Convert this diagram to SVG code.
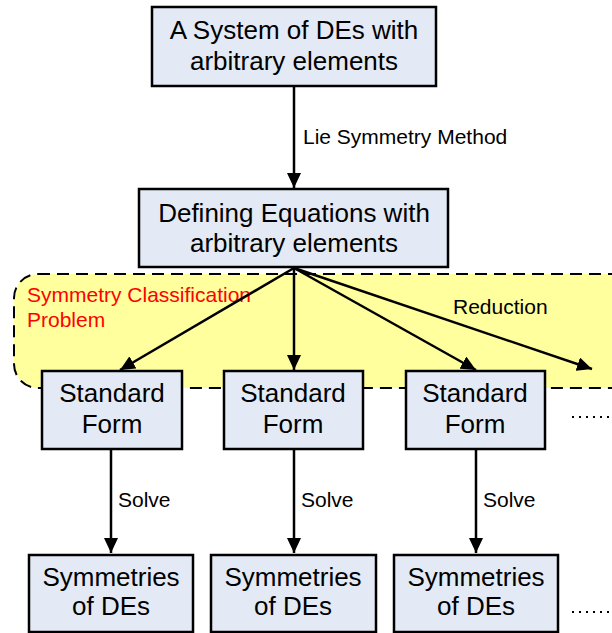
<svg xmlns="http://www.w3.org/2000/svg" width="612" height="633" viewBox="0 0 612 633">
  <style>
    .box { fill: #E3EAF5; stroke: #000; stroke-width: 2.5; }
    .btxt { font-family: "Liberation Sans", Arial, sans-serif; font-size: 26px; fill: #000; text-anchor: middle; }
    .lbl { font-family: "Liberation Sans", Arial, sans-serif; font-size: 21px; fill: #000; }
    .red { font-family: "Liberation Sans", Arial, sans-serif; font-size: 21px; fill: #FF0000; }
    .edge { stroke: #000; stroke-width: 2.5; fill: none; }
    .dots { stroke: #000; stroke-width: 2; stroke-dasharray: 2 5; fill: none; }
  </style>
  <defs>
    <marker id="arrow" viewBox="0 0 15 14" refX="15" refY="7" markerWidth="15" markerHeight="14" markerUnits="userSpaceOnUse" orient="auto">
      <path d="M0,0 L15,7 L0,14 z" fill="#000"/>
    </marker>
  </defs>
  <rect width="612" height="633" fill="#fff"/>

  <!-- classification region, open to the right edge -->
  <g id="region">
    <rect x="14" y="274" width="620" height="114" rx="24" ry="24" fill="#FFFF9E" stroke="#000" stroke-width="2" stroke-dasharray="12 7"/>
    <text class="red" x="27" y="302">Symmetry Classification</text>
    <text class="red" x="27" y="327">Problem</text>
  </g>

  <g id="connectors">
    <line class="edge" x1="294" y1="87" x2="294" y2="188" marker-end="url(#arrow)"/>
    <line class="edge" x1="294" y1="268" x2="120" y2="370" marker-end="url(#arrow)"/>
    <line class="edge" x1="294" y1="268" x2="294" y2="370" marker-end="url(#arrow)"/>
    <line class="edge" x1="294" y1="268" x2="476" y2="370" marker-end="url(#arrow)"/>
    <line class="edge" x1="294" y1="268" x2="592" y2="369" marker-end="url(#arrow)"/>
    <line class="edge" x1="111" y1="450" x2="111" y2="553" marker-end="url(#arrow)"/>
    <line class="edge" x1="294" y1="450" x2="294" y2="553" marker-end="url(#arrow)"/>
    <line class="edge" x1="476" y1="450" x2="476" y2="553" marker-end="url(#arrow)"/>
    <text class="lbl" x="303" y="144">Lie Symmetry Method</text>
    <text class="lbl" x="453" y="314">Reduction</text>
    <text class="lbl" x="118" y="507">Solve</text>
    <text class="lbl" x="301" y="507">Solve</text>
    <text class="lbl" x="483" y="507">Solve</text>
    <line class="dots" x1="572" y1="417" x2="612" y2="417"/>
    <line class="dots" x1="572" y1="612" x2="612" y2="612"/>
  </g>

  <g id="system">
    <rect class="box" x="152" y="7" width="284" height="79"/>
    <text class="btxt" x="294" y="39">A System of DEs with</text>
    <text class="btxt" x="294" y="70">arbitrary elements</text>
  </g>

  <g id="defining">
    <rect class="box" x="139" y="189" width="309" height="78"/>
    <text class="btxt" x="294" y="222">Defining Equations with</text>
    <text class="btxt" x="294" y="252">arbitrary elements</text>
  </g>

  <g id="standard1">
    <rect class="box" x="42" y="371" width="140" height="78"/>
    <text class="btxt" x="112" y="402">Standard</text>
    <text class="btxt" x="112" y="433">Form</text>
  </g>
  <g id="standard2">
    <rect class="box" x="224" y="371" width="139" height="78"/>
    <text class="btxt" x="293" y="402">Standard</text>
    <text class="btxt" x="293" y="433">Form</text>
  </g>
  <g id="standard3">
    <rect class="box" x="406" y="371" width="139" height="78"/>
    <text class="btxt" x="475" y="402">Standard</text>
    <text class="btxt" x="475" y="433">Form</text>
  </g>

  <g id="symmetries1">
    <rect class="box" x="29" y="555" width="164" height="77"/>
    <text class="btxt" x="111" y="586">Symmetries</text>
    <text class="btxt" x="111" y="615">of DEs</text>
  </g>
  <g id="symmetries2">
    <rect class="box" x="211" y="555" width="165" height="77"/>
    <text class="btxt" x="293" y="586">Symmetries</text>
    <text class="btxt" x="293" y="615">of DEs</text>
  </g>
  <g id="symmetries3">
    <rect class="box" x="394" y="555" width="164" height="77"/>
    <text class="btxt" x="476" y="586">Symmetries</text>
    <text class="btxt" x="476" y="615">of DEs</text>
  </g>
</svg>
